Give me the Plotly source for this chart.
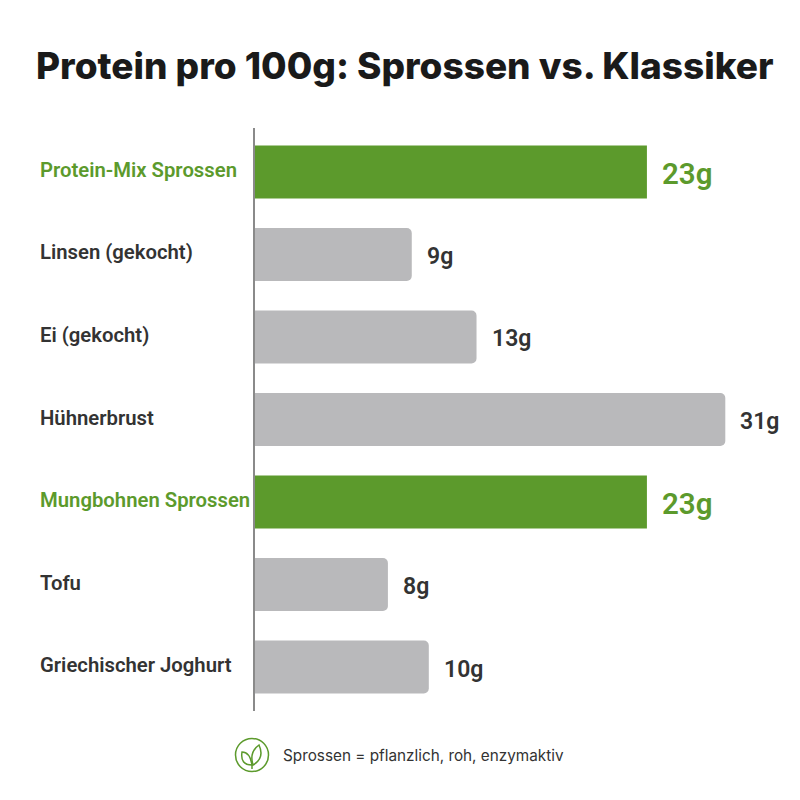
import plotly.graph_objects as go

categories = ["Protein-Mix Sprossen", "Linsen (gekocht)", "Ei (gekocht)", "Hühnerbrust",
              "Mungbohnen Sprossen", "Tofu", "Griechischer Joghurt"]
value_labels = ["23g", "9g", "13g", "31g", "23g", "8g", "10g"]
# bar lengths as drawn in the picture (the Hühnerbrust bar is drawn shorter than its label)
bar_lengths = [23, 9.2, 13, 27.6, 23, 7.8, 10.2]
highlight = [True, False, False, False, True, False, False]

GREEN = "#5c9a2c"
GREY = "#b9b9bb"
DARK = "#333333"
OFF = 8  # page body margin
W = H = 792
L, R, T, B = 255 - OFF, 0, 128 - OFF, 89
LABEL_FONT = "Roboto, sans-serif"


def px(x):
    return (x - OFF - L) / (W - L - R)


def py(y):
    return 1 - (y - OFF - T) / (H - T - B)


fig = go.Figure()
for flag, colour, radius in [(True, GREEN, 0), (False, GREY, 5)]:
    idx = [i for i, h in enumerate(highlight) if h == flag]
    fig.add_bar(
        y=[categories[i] for i in idx], x=[bar_lengths[i] for i in idx],
        orientation="h", width=0.642, marker=dict(color=colour, line_width=0, cornerradius=radius),
        showlegend=False, hoverinfo="skip",
    )

annotations = []
for i, c in enumerate(categories):
    colour = GREEN if highlight[i] else DARK
    annotations.append(dict(x=px(38), xref="paper", y=c, yref="y", yshift=2, text=c, showarrow=False,
                            xanchor="left", font=dict(family=LABEL_FONT, size=20.3, weight=600, color=colour)))
    annotations.append(dict(x=bar_lengths[i], xref="x", y=c, yref="y", text=value_labels[i],
                            showarrow=False, xanchor="left", xshift=13, yshift=-2,
                            font=dict(family=LABEL_FONT, size=29.5 if highlight[i] else 23, weight=600, color=colour)))
annotations.append(dict(x=px(405), xref="paper", y=py(65), yref="paper", text="Protein pro 100g: Sprossen vs. Klassiker",
                        showarrow=False, xanchor="center", yanchor="middle",
                        font=dict(family="Inter, sans-serif", size=37, weight=800, color="#1a1a1a")))
annotations.append(dict(x=px(281), xref="paper", y=py(755), yref="paper", text="Sprossen = pflanzlich, roh, enzymaktiv",
                        showarrow=False, xanchor="left", yanchor="middle",
                        font=dict(family="Inter, sans-serif", size=15.3, color=DARK)))

leaf_right = "M {} {} Q {} {} {} {} Q {} {} {} {} Z".format(px(253), py(765), px(249), py(752), px(259), py(745),
                                                             px(265), py(758), px(253), py(765))
leaf_left = "M {} {} Q {} {} {} {} Q {} {} {} {} Z".format(px(252), py(765), px(240), py(765), px(242), py(752),
                                                            px(250), py(752), px(252), py(765))
stem = "M {} {} L {} {}".format(px(252), py(765), px(252), py(769))
shapes = [
    dict(type="circle", xref="paper", yref="paper", x0=px(235.5), x1=px(268.5), y0=py(771.5), y1=py(738.5),
         line=dict(color=GREEN, width=1.5), fillcolor="white"),
]
for d in (leaf_right, leaf_left, stem):
    shapes.append(dict(type="path", xref="paper", yref="paper", path=d, line=dict(color=GREEN, width=1.5)))

fig.update_layout(
    width=W, height=H, margin=dict(l=L, r=R, t=T, b=B), paper_bgcolor="white", plot_bgcolor="white",
    barmode="overlay", annotations=annotations, shapes=shapes,
    xaxis=dict(range=[0, (W - L - R) / 17.04], visible=False, fixedrange=True),
    yaxis=dict(categoryorder="array", categoryarray=categories, range=[6.533, -0.533], showticklabels=False,
               showgrid=False, zeroline=False, showline=True, linecolor="#8a8a8a", linewidth=1.5, ticks="", fixedrange=True),
)
fig.write_html("out.html", config={"displayModeBar": False})
